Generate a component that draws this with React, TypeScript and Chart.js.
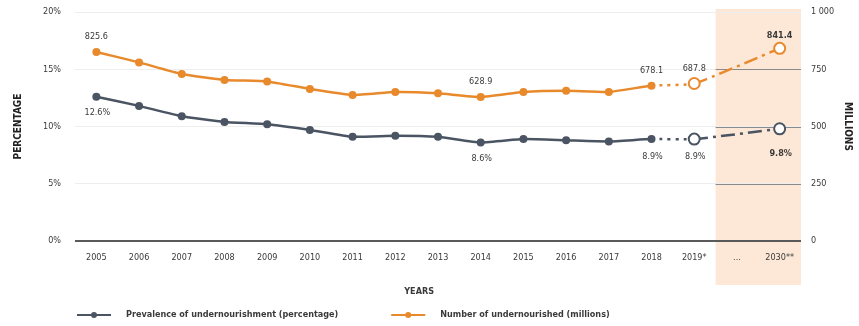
import React, { useEffect, useRef } from 'react';
import { Chart, registerables } from 'chart.js';

Chart.register(...registerables);

const categories = ['2005', '2006', '2007', '2008', '2009', '2010', '2011', '2012', '2013', '2014', '2015', '2016', '2017', '2018', '2019*', '...', '2030**'];
const prevalence = [12.6, 11.8, 10.9, 10.4, 10.2, 9.7, 9.1, 9.2, 9.1, 8.6, 8.9, 8.8, 8.7, 8.9, 8.9, null, 9.8];
const undernourished = [825.6, 780.0, 729.0, 703.0, 697.0, 664.0, 638.0, 651.0, 645.0, 628.9, 651.0, 656.0, 651.0, 678.1, 687.8, null, 841.4];
const percentTicks = [0, 5, 10, 15, 20];
const percentTickLabels = ['0%', '5%', '10%', '15%', '20%'];
const millionTicks = [0, 250, 500, 750, 1000];
const millionTickLabels = ['0', '250', '500', '750', '1 000'];
const labelledIndices = [0, 9, 13, 14, 16];
const legendLabels = ['Prevalence of undernourishment (percentage)', 'Number of undernourished (millions)'];

const LAST_OBSERVED = 13; // 2018
const FIRST_PROJECTED = 14; // 2019*
const SHADE_FROM = 15; // '...'

const GREY = '#4a5462';
const ORANGE = '#e8892c';
const SHADE = '#fde8d7';
const TEXT = '#3a3a3a';
const FONT = '"DejaVu Sans Condensed", "Liberation Sans Narrow", "Open Sans", sans-serif';

const decoPlugin = {
  id: 'deco',
  beforeDraw(chart: any) {
    const { ctx, chartArea } = chart;
    const x = chart.scales.x;
    const half = (x.getPixelForValue(1) - x.getPixelForValue(0)) / 2;
    const left = x.getPixelForValue(SHADE_FROM) - half;
    ctx.save();
    ctx.fillStyle = SHADE;
    ctx.fillRect(left, chartArea.top - 3, chartArea.right - left, chartArea.bottom - chartArea.top + 47);
    ctx.restore();
  },
  beforeDatasetsDraw(chart: any) {
    const { ctx, chartArea } = chart;
    const x = chart.scales.x;
    const y1 = chart.scales.y1;
    const half = (x.getPixelForValue(1) - x.getPixelForValue(0)) / 2;
    const left = x.getPixelForValue(SHADE_FROM) - half;
    ctx.save();
    ctx.strokeStyle = '#8a8a8a';
    ctx.lineWidth = 1;
    millionTicks.forEach((v, i) => {
      if (i === 0 || i === millionTicks.length - 1) return;
      const yy = Math.round(y1.getPixelForValue(v)) + 0.5;
      ctx.beginPath();
      ctx.moveTo(left, yy);
      ctx.lineTo(chartArea.right, yy);
      ctx.stroke();
    });
    // zero axis line
    const y0 = Math.round(y1.getPixelForValue(0));
    ctx.strokeStyle = '#5a5a5a';
    ctx.lineWidth = 2;
    ctx.beginPath();
    ctx.moveTo(chartArea.left, y0);
    ctx.lineTo(chartArea.right, y0);
    ctx.stroke();
    ctx.restore();
  },
  afterDatasetsDraw(chart: any) {
    const { ctx, chartArea } = chart;
    ctx.save();
    ctx.fillStyle = TEXT;
    ctx.textAlign = 'center';
    ctx.textBaseline = 'middle';
    // data labels
    const greyMeta = chart.getDatasetMeta(0);
    const orangeMeta = chart.getDatasetMeta(1);
    labelledIndices.forEach((i) => {
      const bold = i === categories.length - 1;
      ctx.font = (bold ? 'bold ' : '') + '9px ' + FONT;
      const gp = greyMeta.data[i];
      const op = orangeMeta.data[i];
      const gOff = i === categories.length - 1 ? 25 : i >= LAST_OBSERVED ? 18 : 16;
      const oOff = i === categories.length - 1 ? 13 : 15;
      ctx.fillText((prevalence[i] as number).toFixed(1) + '%', gp.x + 1, gp.y + gOff);
      ctx.fillText((undernourished[i] as number).toFixed(1), op.x, op.y - oOff);
    });
    // x title
    ctx.font = 'bold 9px ' + FONT;
    ctx.fillText('YEARS', chartArea.left + chartArea.width * 0.474, 292);
    // legend
    ctx.font = 'bold 9px ' + FONT;
    ctx.textAlign = 'left';
    let lx = chartArea.left + 2;
    const ly = 315;
    [GREY, ORANGE].forEach((c, k) => {
      ctx.strokeStyle = c;
      ctx.fillStyle = c;
      ctx.lineWidth = 2;
      ctx.beginPath();
      ctx.moveTo(lx, ly);
      ctx.lineTo(lx + 34, ly);
      ctx.stroke();
      ctx.beginPath();
      ctx.arc(lx + 17, ly, 3, 0, Math.PI * 2);
      ctx.fill();
      ctx.fillStyle = TEXT;
      const tx = lx + 49;
      ctx.fillText(legendLabels[k], tx, ly);
      lx = tx + ctx.measureText(legendLabels[k]).width + 53;
    });
    ctx.restore();
  },
};

const isProjected = (ctx: any) => ctx.dataIndex >= FIRST_PROJECTED;

function makeDataset(label: string, data: (number | null)[], color: string, axis: string) {
  return {
    label,
    data,
    yAxisID: axis,
    borderColor: color,
    backgroundColor: color,
    borderWidth: 2.5,
    tension: 0.15,
    spanGaps: true,
    pointRadius: (c: any) => (isProjected(c) ? 5.5 : 4),
    pointBackgroundColor: (c: any) => (isProjected(c) ? '#ffffff' : color),
    pointBorderColor: color,
    pointBorderWidth: (c: any) => (isProjected(c) ? 2 : 0),
    segment: {
      borderDash: (c: any) =>
        c.p0DataIndex === LAST_OBSERVED ? [3, 5] : c.p0DataIndex >= FIRST_PROJECTED ? [14, 5, 3, 5] : undefined,
    },
  };
}

const noVPad = (s: any) => { s.paddingTop = 0; s.paddingBottom = 0; };

export default function App() {
  const ref = useRef<HTMLCanvasElement | null>(null);
  useEffect(() => {
    document.body.style.margin = '0';
    const canvas = ref.current;
    if (!canvas) return;
    const chart = new Chart(canvas, {
      type: 'line',
      data: {
        labels: categories,
        datasets: [
          makeDataset(legendLabels[0], prevalence, GREY, 'y'),
          makeDataset(legendLabels[1], undernourished, ORANGE, 'y1'),
        ] as any,
      },
      options: {
        animation: false,
        responsive: false,
        layout: { padding: { top: 12, left: 0, right: 0, bottom: 0 } },
        plugins: { legend: { display: false }, tooltip: { enabled: false } },
        scales: {
          x: {
            type: 'category',
            offset: true,
            grid: { display: false, drawTicks: false },
            border: { display: false },
            ticks: { color: TEXT, font: { family: FONT, size: 9 }, padding: 11, maxRotation: 0, autoSkip: false,
              callback: (_v: any, i: number) => categories[i] },
            afterFit: (s: any) => { s.height = 85; },
          },
          y: {
            position: 'left',
            min: 0,
            max: 20,
            afterBuildTicks: (s: any) => { s.ticks = percentTicks.map((v) => ({ value: v })); },
            ticks: { color: TEXT, font: { family: FONT, size: 9 }, padding: 14,
              callback: (_v: any, i: number) => percentTickLabels[i] },
            grid: { color: (c: any) => (c.tick && c.tick.value === 0 ? 'rgba(0,0,0,0)' : '#eeeeee'), drawTicks: false },
            border: { display: false },
            title: { display: true, text: 'PERCENTAGE', color: '#222', font: { family: FONT, size: 10, weight: 'bold' }, padding: { top: 12, bottom: 0 } },
            afterFit: (s: any) => { s.width = 75; noVPad(s); },
          },
          y1: {
            position: 'right',
            min: 0,
            max: 1000,
            afterBuildTicks: (s: any) => { s.ticks = millionTicks.map((v) => ({ value: v })); },
            ticks: { color: TEXT, font: { family: FONT, size: 9 }, padding: 10,
              callback: (_v: any, i: number) => millionTickLabels[i] },
            grid: { display: false, drawTicks: false },
            border: { display: false },
            title: { display: true, text: 'MILLIONS', color: '#222', font: { family: FONT, size: 10, weight: 'bold' }, padding: { top: 5, bottom: 0 } },
            afterFit: (s: any) => { s.width = 58; noVPad(s); },
          },
        },
      } as any,
      plugins: [decoPlugin],
    });
    return () => chart.destroy();
  }, []);
  return (
    <div style={{ width: 859, height: 326, background: '#ffffff' }}>
      <canvas ref={ref} width={859} height={326} />
    </div>
  );
}
